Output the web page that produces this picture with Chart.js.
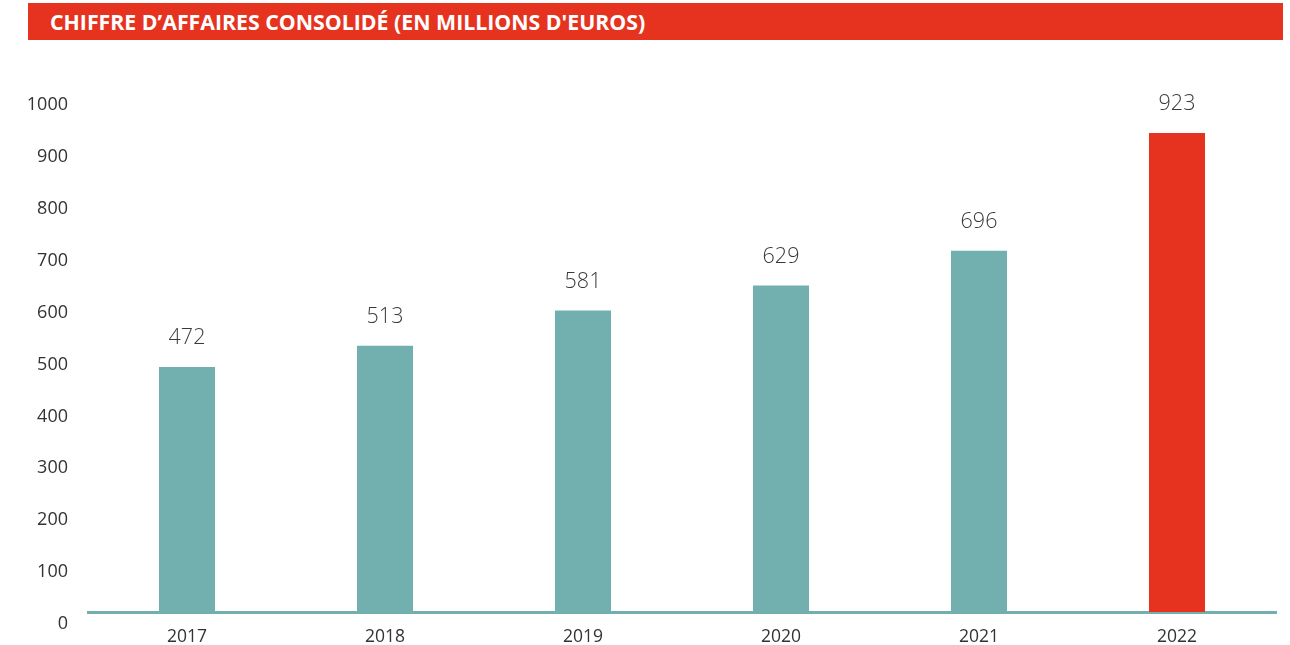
<!DOCTYPE html>
<html>
<head>
<meta charset="utf-8">
<script src="https://cdn.jsdelivr.net/npm/chart.js@4"></script>
<style>
  html, body { margin: 0; padding: 0; background: #ffffff; }
  #wrap { position: relative; width: 1290px; height: 645px; }
  #banner {
    position: absolute; left: 28px; top: 3px; width: 1255px; height: 37px;
    background: #E6331F; color: #ffffff;
    font-family: "Open Sans", sans-serif; font-weight: 700; font-size: 21.3px;
    line-height: 37px; padding-left: 22px; box-sizing: border-box;
    white-space: nowrap;
  }
  #c { position: absolute; left: 0; top: 0; }
</style>
</head>
<body>
<div id="wrap">
  <canvas id="c" width="1290" height="645"></canvas>
  <div id="banner">CHIFFRE D’AFFAIRES CONSOLIDÉ (EN MILLIONS D'EUROS)</div>
</div>
<script>
const years = ["2017", "2018", "2019", "2020", "2021", "2022"];
const revenue = [472, 513, 581, 629, 696, 923];
const yTicks = [0, 100, 200, 300, 400, 500, 600, 700, 800, 900, 1000];

const TEAL = "#72B0AF";
const RED = "#E6331F";
const barColors = years.map((y, i) => i === years.length - 1 ? RED : TEAL);

const valueLabels = {
  id: "valueLabels",
  afterDatasetsDraw(chart) {
    const ctx = chart.ctx;
    const meta = chart.getDatasetMeta(0);
    ctx.save();
    ctx.font = "300 21.5px 'Open Sans', sans-serif";
    ctx.fillStyle = "#3a3a3a";
    ctx.textAlign = "center";
    ctx.textBaseline = "middle";
    meta.data.forEach((bar, i) => {
      ctx.fillText(String(revenue[i]), bar.x, bar.y - 29);
    });
    ctx.restore();
  }
};

new Chart(document.getElementById("c"), {
  type: "bar",
  data: {
    labels: years,
    datasets: [{
      data: revenue,
      backgroundColor: barColors,
      borderWidth: 0,
      barPercentage: 0.283,
      categoryPercentage: 1.0
    }]
  },
  options: {
    responsive: false,
    animation: false,
    layout: { padding: { top: 93, right: 14, left: 0, bottom: 0 } },
    plugins: { legend: { display: false }, tooltip: { enabled: false } },
    scales: {
      x: {
        grid: { display: false, drawTicks: false },
        border: { display: true, color: TEAL, width: 3 },
        ticks: { color: "#333333", font: { family: "Open Sans", size: 17.5 }, padding: 15 },
        afterFit(scale) { scale.height = 33; }
      },
      y: {
        min: 0, max: 1000,
        afterBuildTicks(scale) { scale.ticks = yTicks.map(v => ({ value: v })); },
        grid: { display: false, drawTicks: false },
        border: { display: false },
        ticks: {
          color: "#333333", font: { family: "Open Sans", size: 18 }, padding: 20, labelOffset: 12,
          callback: (v) => String(v)
        },
        afterFit(scale) { scale.width = 88; }
      }
    }
  },
  plugins: [valueLabels]
});
</script>
</body>
</html>
